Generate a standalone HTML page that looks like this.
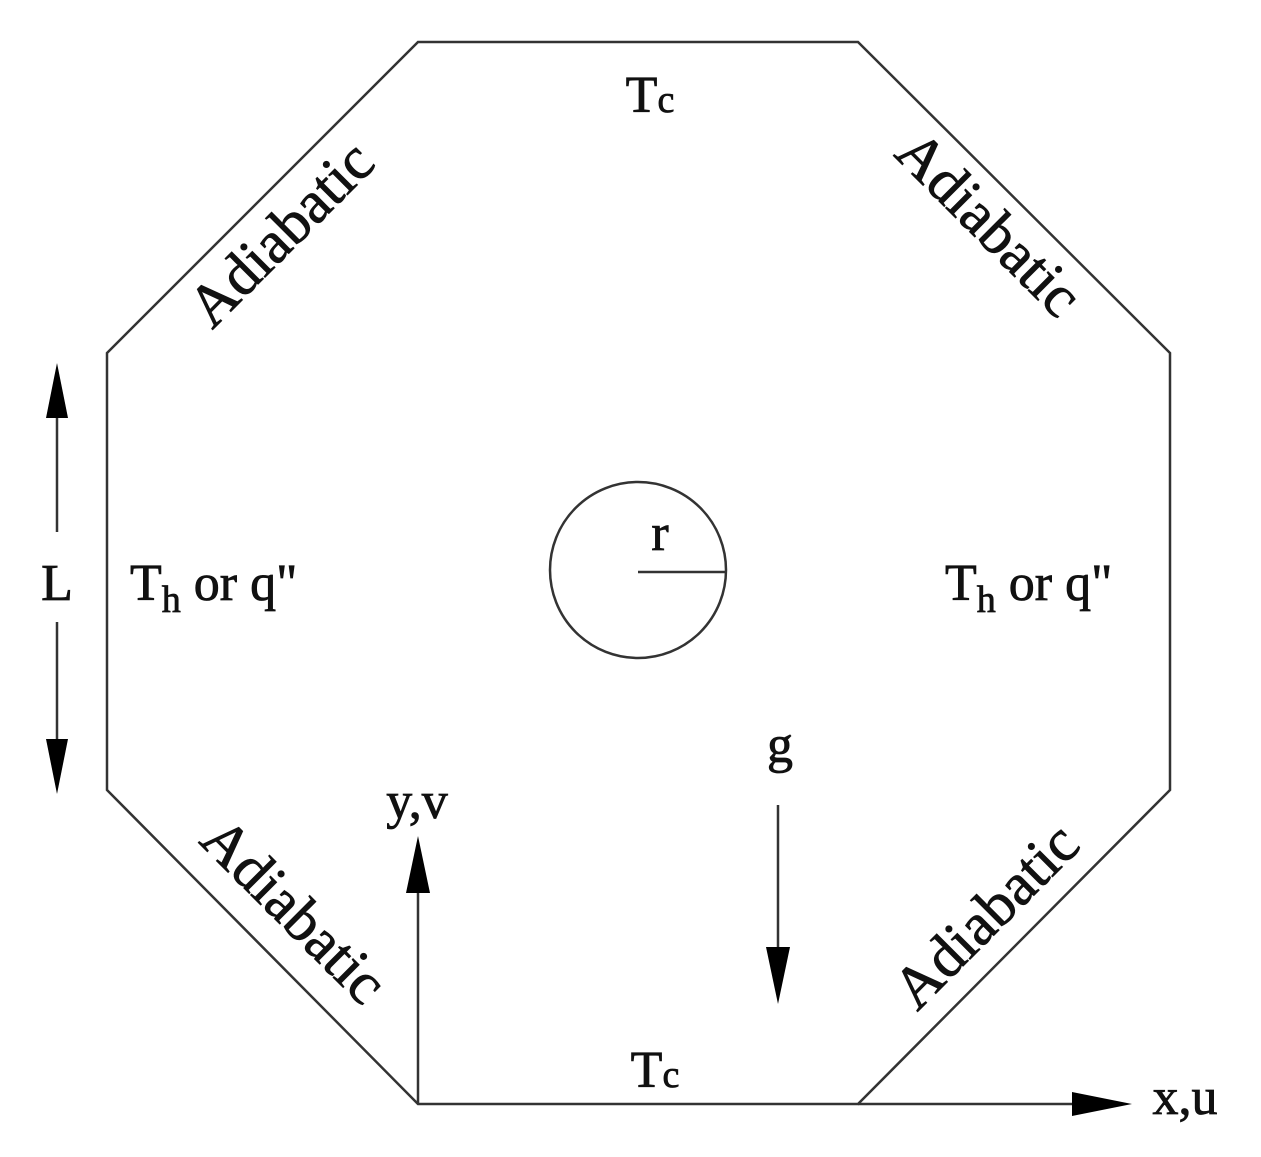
<!DOCTYPE html>
<html><head><meta charset="utf-8"><style>
html,body{margin:0;padding:0;background:#fff;}
svg{display:block;}
text{font-family:"Liberation Serif",serif;fill:#111;stroke:#111;stroke-width:0.8;}
</style></head><body>
<svg width="1261" height="1157" viewBox="0 0 1261 1157" xmlns="http://www.w3.org/2000/svg">
<polygon points="418,42 858,42 1170,353 1170,790 858,1104 418,1104 107,790 107,353" fill="none" stroke="#333" stroke-width="2.5"/>
<circle cx="638" cy="570" r="88" fill="none" stroke="#333" stroke-width="2.5"/>
<line x1="638" y1="572" x2="727" y2="572" stroke="#333" stroke-width="2.5"/>
<text x="660" y="550" font-size="52" text-anchor="middle">r</text>
<line x1="57" y1="400" x2="57" y2="532" stroke="#333" stroke-width="2.5"/>
<polygon points="57,363 46,418 68,418" fill="#000"/>
<text x="57" y="600" font-size="52" text-anchor="middle">L</text>
<line x1="57" y1="622" x2="57" y2="755" stroke="#333" stroke-width="2.5"/>
<polygon points="57,794 46,739 68,739" fill="#000"/>
<line x1="418" y1="1104" x2="418" y2="880" stroke="#333" stroke-width="2.5"/>
<polygon points="418,836 406,893 430,893" fill="#000"/>
<text x="417" y="818" font-size="52" text-anchor="middle">y,v</text>
<line x1="778" y1="805" x2="778" y2="960" stroke="#333" stroke-width="2.5"/>
<polygon points="778,1004 766,947 790,947" fill="#000"/>
<text x="780" y="762" font-size="52" text-anchor="middle">g</text>
<line x1="858" y1="1104" x2="1080" y2="1104" stroke="#333" stroke-width="2.5"/>
<polygon points="1132,1104 1072,1092 1072,1116" fill="#000"/>
<text x="1185" y="1114" font-size="52" text-anchor="middle">x,u</text>
<text x="650" y="112" font-size="52" text-anchor="middle">T<tspan font-size="38">c</tspan></text>
<text x="655" y="1087" font-size="52" text-anchor="middle">T<tspan font-size="38">c</tspan></text>
<text x="130" y="600" font-size="52">T<tspan font-size="38" dy="12">h</tspan><tspan dy="-12"> or q"</tspan></text>
<text x="945" y="600" font-size="52">T<tspan font-size="38" dy="12">h</tspan><tspan dy="-12"> or q"</tspan></text>
<text transform="translate(285,238) rotate(-45)" font-size="60" text-anchor="middle" dominant-baseline="middle">Adiabatic</text>
<text transform="translate(985,228) rotate(45)" font-size="60" text-anchor="middle" dominant-baseline="middle">Adiabatic</text>
<text transform="translate(290,915) rotate(45)" font-size="60" text-anchor="middle" dominant-baseline="middle">Adiabatic</text>
<text transform="translate(990,920) rotate(-45)" font-size="60" text-anchor="middle" dominant-baseline="middle">Adiabatic</text>
</svg>
</body></html>
